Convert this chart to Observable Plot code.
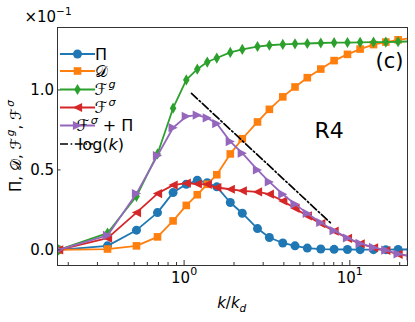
<!DOCTYPE html>
<html><head><meta charset="utf-8">
<script src="https://cdn.jsdelivr.net/npm/d3@7"></script>
<script src="https://cdn.jsdelivr.net/npm/@observablehq/plot@0.6"></script>
<style>body{margin:0;background:#fff}</style>
</head><body><div id="chart"></div>
<script>
// ---- data (values in units of 1e-1) ----
const k = [0.175, 0.345, 0.516, 0.691, 0.858, 1.031, 1.201, 1.380, 1.575, 1.900, 2.245, 2.773, 3.27, 3.94, 4.67, 5.54, 6.68, 8.04, 9.68, 11.54, 13.9, 16.49, 19.56, 23.4];
const piVals = [0.0, 0.025, 0.123, 0.233, 0.358, 0.41, 0.435, 0.42, 0.394, 0.296, 0.229, 0.133, 0.077, 0.043, 0.025, 0.011, 0.005, 0.003, 0.002, 0.001, 0.001, 0.001, 0.002, 0.002];
const dVals = [0.0, 0.005, 0.025, 0.081, 0.181, 0.278, 0.345, 0.41, 0.47, 0.60, 0.695, 0.80, 0.879, 0.957, 1.019, 1.077, 1.131, 1.184, 1.223, 1.256, 1.284, 1.30, 1.314, 1.325];
const fgVals = [0.0, 0.105, 0.335, 0.60, 0.886, 1.063, 1.13, 1.175, 1.20, 1.235, 1.254, 1.272, 1.28, 1.285, 1.289, 1.291, 1.294, 1.296, 1.297, 1.298, 1.299, 1.300, 1.302, 1.304];
const fsVals = [0.0, 0.073, 0.233, 0.352, 0.405, 0.417, 0.412, 0.41, 0.39, 0.379, 0.369, 0.362, 0.348, 0.306, 0.26, 0.212, 0.164, 0.117, 0.072, 0.038, 0.013, -0.004, -0.028, -0.04];
const fsPiVals = [0.0, 0.09, 0.352, 0.59, 0.764, 0.835, 0.843, 0.825, 0.79, 0.677, 0.605, 0.50, 0.425, 0.348, 0.286, 0.228, 0.171, 0.12, 0.074, 0.04, 0.015, -0.002, -0.026, -0.038];
const logK = [1.108, 7.73];
const logV = [0.979, 0.164];
const yTicks = [0, 0.5, 1.0];
const yTickLabels = ["0.0", "0.5", "1.0"];
const xMajor = [1, 10];
const xMajorExp = ["0", "1"];
const xMinor = [0.2, 0.3, 0.4, 0.5, 0.6, 0.7, 0.8, 0.9, 2, 3, 4, 5, 6, 7, 8, 9, 20];
const legendLabels = [
  [["Π"]],
  [["𝒟"]],
  [["ℱ", "pad"], ["g", "sup it"]],
  [["ℱ", "pad"], ["σ", "sup it"]],
  [["ℱ", "pad"], ["σ", "sup it"], [" + Π"]],
  [["log("], ["k", "it"], [")"]]
];
const yLabel = [["Π, "], ["𝒟"], [", "], ["ℱ"], ["g", "sup it"], [", "], ["ℱ"], ["σ", "sup it"]];
const xLabel = [["k", "it"], ["/"], ["k", "it"], ["d", "sub it"]];
const scaleLabel = [["×10"], ["−1", "sup"]];
const regionLabel = "R4";
const panelLabel = "(c)";

// ---- marker shapes ----
const circleSym = {draw(c){ c.moveTo(4.5,0); c.arc(0,0,4.5,0,2*Math.PI); c.closePath(); }};
const squareSym = {draw(c){ c.rect(-3.8,-3.8,7.6,7.6); }};
const diamondSym = {draw(c){ c.moveTo(0,-5.6); c.lineTo(3.3,0); c.lineTo(0,5.6); c.lineTo(-3.3,0); c.closePath(); }};
const triLeftSym = {draw(c){ c.moveTo(-4.6,0); c.lineTo(4.6,-4.6); c.lineTo(4.6,4.6); c.closePath(); }};
const triRightSym = {draw(c){ c.moveTo(4.6,0); c.lineTo(-4.6,-4.6); c.lineTo(-4.6,4.6); c.closePath(); }};

const series = [
  {values: piVals, color: "#1f77b4", symbol: circleSym},
  {values: dVals, color: "#ff7f0e", symbol: squareSym},
  {values: fgVals, color: "#2ca02c", symbol: diamondSym},
  {values: fsVals, color: "#d62728", symbol: triLeftSym},
  {values: fsPiVals, color: "#9467bd", symbol: triRightSym}
];
const dashDot = "8,2.6,1.6,2.6";

const marks = [];
series.forEach(s => {
  const rows = k.map((x, i) => ({k: x, v: s.values[i]}));
  marks.push(Plot.line(rows, {x: "k", y: "v", stroke: s.color, strokeWidth: 1.8, clip: true}));
  marks.push(Plot.dot(rows, {x: "k", y: "v", symbol: s.symbol, fill: s.color, stroke: "none", clip: true}));
});
const logRows = logK.map((x, i) => ({k: x, v: logV[i]}));
marks.push(Plot.line(logRows, {x: "k", y: "v", stroke: "black", strokeWidth: 1.7, strokeDasharray: dashDot}));

marks.push(Plot.frame({stroke: "#333", strokeWidth: 1}));
marks.push(Plot.axisX({ticks: xMajor, tickSize: -5, tickFormat: () => "", label: null, stroke: "#333"}));
marks.push(Plot.axisX({ticks: xMinor, tickSize: -3, tickFormat: () => "", label: null, stroke: "#333"}));
marks.push(Plot.axisX({ticks: xMajor, tickSize: 0, tickPadding: 7, tickFormat: () => "10", label: null, fontSize: 15, fill: "#000"}));
marks.push(Plot.axisY({ticks: yTicks, tickSize: -3.5, tickFormat: () => "", label: null, stroke: "#333"}));
marks.push(Plot.axisY({ticks: yTicks, tickSize: 0, tickPadding: 3.5, tickFormat: d => yTickLabels[yTicks.indexOf(d)], label: null, fontSize: 15, fill: "#000"}));
marks.push(Plot.text([regionLabel], {x: () => 7.5, y: () => 0.745, text: d => d, fontSize: 22, fill: "#000"}));
marks.push(Plot.text([panelLabel], {frameAnchor: "top-right", dx: -4, dy: 26, text: d => d, fontSize: 21, fill: "#000", textAnchor: "end", lineAnchor: "top"}));

const svgNode = Plot.plot({
  width: 415, height: 322,
  marginLeft: 57, marginRight: 8, marginTop: 27, marginBottom: 57,
  x: {type: "log", domain: [0.1722, 22.29], label: null},
  y: {domain: [-0.098, 1.391], label: null},
  style: {fontFamily: "DejaVu Sans", fontSize: "15px", background: "white", color: "#000"},
  marks
});
document.getElementById("chart").appendChild(svgNode);

const svg = d3.select(svgNode);

function rich(textSel, segs, base) {
  let shift = 0;
  segs.forEach(([s, m]) => {
    const ts = textSel.append("tspan").text(s);
    let target = 0;
    if (m && m.includes("sup")) { ts.attr("font-size", base * 0.7); target = -base * 0.45; }
    if (m && m.includes("sub")) { ts.attr("font-size", base * 0.7); target = base * 0.25; }
    if (m && m.includes("it")) ts.attr("font-style", "italic");
    if (target !== shift) { ts.attr("dy", target - shift); shift = target; }
    if (m && m.includes("sup") && m.includes("it")) ts.attr("dx", 1.5);
    if (m && m.includes("pad")) ts.attr("dx", 4);
  });
}

// superscripts on x tick labels (only the labelled ones)
let xi = 0;
svg.selectAll('g[aria-label="x-axis tick label"] text').each(function() {
  if (this.textContent === "10") {
    d3.select(this).append("tspan").attr("dy", -8).attr("font-size", 11).text(xMajorExp[xi++]);
  }
});

// legend
const leg = svg.append("g").attr("font-family", "DejaVu Sans").attr("font-size", 16);
const rowY = [54, 71, 89.5, 107.5, 125.5, 144];
legendLabels.forEach((lab, i) => {
  const y = rowY[i];
  const g = leg.append("g");
  if (i < series.length) {
    const s = series[i];
    g.append("line").attr("x1", 60).attr("x2", 95).attr("y1", y).attr("y2", y).attr("stroke", s.color).attr("stroke-width", 1.8);
    const p = d3.path(); s.symbol.draw(p);
    g.append("path").attr("d", p.toString()).attr("transform", `translate(77.5,${y})`).attr("fill", s.color);
  } else {
    g.append("line").attr("x1", 60).attr("x2", 93).attr("y1", y).attr("y2", y).attr("stroke", "black").attr("stroke-width", 1.7).attr("stroke-dasharray", dashDot);
  }
  const t = g.append("text").attr("x", 101).attr("y", y + 5.8);
  rich(t, lab, 16);
});

// axis labels and offset text
const yl = svg.append("text").attr("transform", "translate(21,146) rotate(-90)").attr("text-anchor", "middle").attr("font-size", 15).attr("font-family", "DejaVu Sans");
rich(yl, yLabel, 15);
const xl = svg.append("text").attr("x", 231.7).attr("y", 308).attr("text-anchor", "middle").attr("font-size", 15).attr("font-family", "DejaVu Sans");
rich(xl, xLabel, 15);
const sl = svg.append("text").attr("x", 48).attr("y", 21.5).attr("font-size", 15).attr("font-family", "DejaVu Sans");
rich(sl, scaleLabel, 15);
</script>
</body></html>
